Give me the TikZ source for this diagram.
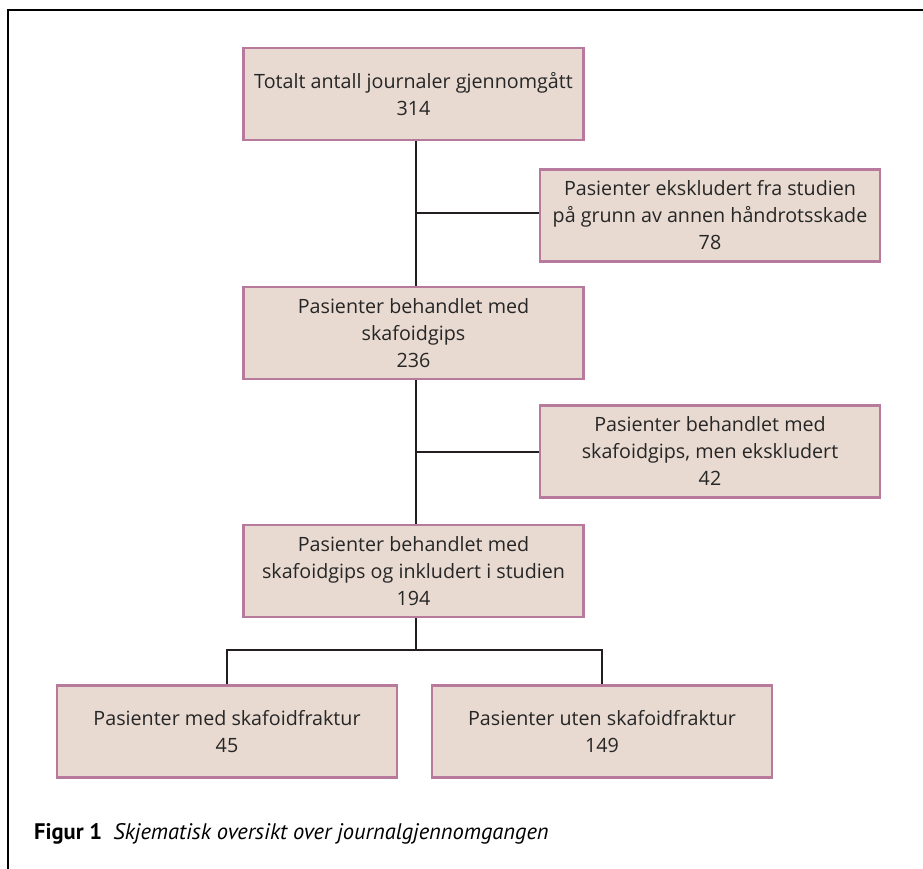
\documentclass[tikz,border=0pt]{standalone}
\usepackage{fontspec}
\setmainfont{Open Sans}
\newfontfamily\capfont{PT Sans}
\definecolor{boxfill}{HTML}{E8DAD1}
\definecolor{boxline}{HTML}{B87A9C}
\definecolor{conn}{HTML}{231F20}
\begin{document}
\begin{tikzpicture}[x=1pt,y=-1pt,
  fbox/.style={draw=boxline,fill=boxfill,line width=2.8pt,minimum width=340pt,minimum height=92pt,
    align=center,inner sep=0pt,font=\fontsize{19.7}{27}\selectfont,text=black!85},
  link/.style={draw=conn,line width=2.8pt}]
\useasboundingbox (0,0) rectangle (923,869);
\draw[line width=2.8pt] (923,10) -- (8,10) -- (8,869);
\node[fbox] (a) at (413.5,94) {Totalt antall journaler gjennomgått\\314};
\node[fbox] (b) at (710,215.5) {Pasienter ekskludert fra studien\\på grunn av annen håndrotsskade\\78};
\node[fbox] (c) at (413.5,333) {Pasienter behandlet med\\skafoidgips\\236};
\node[fbox] (d) at (710,451.5) {Pasienter behandlet med\\skafoidgips, men ekskludert\\42};
\node[fbox] (e) at (413.5,571) {Pasienter behandlet med\\skafoidgips og inkludert i studien\\194};
\node[fbox] (f) at (227,731.5) {Pasienter med skafoidfraktur\\45};
\node[fbox] (g) at (602,731.5) {Pasienter uten skafoidfraktur\\149};
\coordinate (j1) at (416,213);
\coordinate (j2) at (416,452);
\coordinate (j3) at (416,650);
\path[link] (a.south -| j1) -- (c.north -| j1);
\path[link] (j1) -- (b.west |- j1);
\path[link] (c.south -| j2) -- (e.north -| j2);
\path[link] (j2) -- (d.west |- j2);
\path[link] (e.south -| j3) -- (j3);
\path[link] (f.north) |- (j3) -| (g.north);
\node[anchor=base west,inner sep=0pt,font=\capfont\fontsize{22.5}{26}\selectfont] (cap) at (34,839)
  {\textbf{Figur 1}\enspace\textit{Skjematisk oversikt over journalgjennomgangen}};
\end{tikzpicture}
\end{document}
